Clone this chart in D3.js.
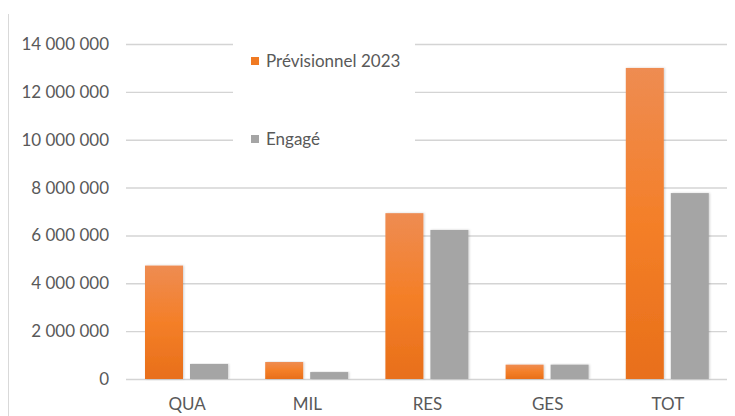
<!DOCTYPE html>
<html>
<head>
<meta charset="utf-8">
<script src="https://cdn.jsdelivr.net/npm/d3@7"></script>
<style>
  html, body { margin: 0; padding: 0; background: #fff; }
  svg text { font-family: Lato, "Open Sans", sans-serif; fill: #595959; }
</style>
</head>
<body>
<div id="chart"></div>
<script>
// données --------------------------------------------------------------------
const categories = ['QUA', 'MIL', 'RES', 'GES', 'TOT'];
const previsionnel = [4740000, 710000, 6930000, 600000, 13000000];
const engage = [630000, 290000, 6230000, 600000, 7770000];
const seriesNames = ['Prévisionnel 2023', 'Engagé'];
const yTicks = [0, 2000000, 4000000, 6000000, 8000000, 10000000, 12000000, 14000000];

// zone SVG -------------------------------------------------------------------
const width = 735;
const height = 416;
const margin = { top: 44, bottom: 37, left: 126, right: 8 };

const svg = d3.select('#chart').append('svg')
  .attr('width', width)
  .attr('height', height);

// dégradé orange ---------------------------------------------------------------
const defs = svg.append('defs');
const grad = defs.append('linearGradient')
  .attr('id', 'orangeGrad')
  .attr('x1', 0).attr('y1', 0).attr('x2', 0).attr('y2', 1);
grad.append('stop').attr('offset', '0%').attr('stop-color', '#EE8C52');
grad.append('stop').attr('offset', '50%').attr('stop-color', '#F47F28');
grad.append('stop').attr('offset', '100%').attr('stop-color', '#E86F1A');
const filter = defs.append('filter').attr('id', 'shadow')
  .attr('x', '-20%').attr('y', '-5%').attr('width', '140%').attr('height', '110%');
filter.append('feDropShadow')
  .attr('dx', 1).attr('dy', 0).attr('stdDeviation', 1.2)
  .attr('flood-color', '#000').attr('flood-opacity', 0.18);

// bord gauche ---------------------------------------------------------------
svg.append('line')
  .attr('x1', 8.5).attr('x2', 8.5)
  .attr('y1', 14).attr('y2', height)
  .attr('stroke', '#d9d9d9').attr('stroke-width', 1);

// échelles -------------------------------------------------------------------
const xScale = d3.scaleBand()
  .domain(categories)
  .range([margin.left, width - margin.right]);

const yScale = d3.scaleLinear()
  .domain([0, 14000000])
  .range([height - margin.bottom, margin.top]);

const fmt = v => d3.format(',')(v).replace(/,/g, ' ');

// grille et axe y ----------------------------------------------------------------
const yAxis = d3.axisLeft(yScale)
  .tickValues(yTicks)
  .tickSize(-(width - margin.right - margin.left))
  .tickPadding(17)
  .tickFormat(fmt);

const gy = svg.append('g')
  .attr('transform', 'translate(' + margin.left + ',0)')
  .call(yAxis);
gy.select('.domain').remove();
gy.selectAll('line').attr('stroke', '#d4d4d4').attr('stroke-width', 1.4);
gy.selectAll('text')
  .attr('font-size', '17px')
  .attr('fill', '#595959')
  .style('font-family', 'Lato, sans-serif');

// barres --------------------------------------------------------------------
const barW = 38;
const gap = 7;
const groupOff = 19;
const data = categories.map((c, i) => ({ cat: c, vals: [previsionnel[i], engage[i]] }));

const groups = svg.selectAll('.grp')
  .data(data)
  .enter()
  .append('g')
  .attr('class', 'grp')
  .attr('transform', d => 'translate(' + xScale(d.cat) + ',0)');

groups.selectAll('rect')
  .data(d => d.vals)
  .enter()
  .append('rect')
  .attr('x', (d, i) => groupOff + i * (barW + gap))
  .attr('y', d => yScale(d))
  .attr('width', barW)
  .attr('height', d => yScale(0) - yScale(d))
  .attr('fill', (d, i) => i === 0 ? 'url(#orangeGrad)' : '#A5A5A5')
  .attr('filter', 'url(#shadow)');

// axe x ---------------------------------------------------------------------
svg.append('g')
  .selectAll('text')
  .data(categories)
  .enter()
  .append('text')
  .attr('x', d => xScale(d) + xScale.bandwidth() / 2 + 1)
  .attr('y', height - 6)
  .attr('text-anchor', 'middle')
  .attr('font-size', '17px')
  .text(d => d);

// légende -------------------------------------------------------------------
const legend = svg.append('g');
legend.append('rect')
  .attr('x', 233).attr('y', 36)
  .attr('width', 182).attr('height', 116)
  .attr('fill', '#fff');
const legendY = [61, 139];
seriesNames.forEach((name, i) => {
  legend.append('rect')
    .attr('x', 251).attr('y', legendY[i] - 4)
    .attr('width', 8).attr('height', 8)
    .attr('fill', i === 0 ? '#F07A22' : '#A5A5A5');
  legend.append('text')
    .attr('x', 266).attr('y', legendY[i] + 6)
    .attr('font-size', '17px')
    .text(name);
});
</script>
</body>
</html>
